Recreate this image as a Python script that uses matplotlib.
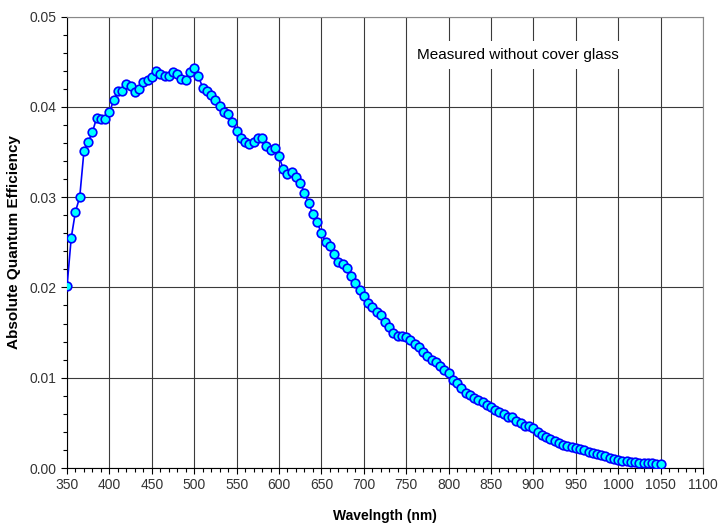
import numpy as np
import matplotlib
matplotlib.use('Agg')
import matplotlib.pyplot as plt
from matplotlib.ticker import MultipleLocator

plt.rcParams['font.family'] = ['Liberation Sans', 'DejaVu Sans']

### Dados (um ponto a cada 5 nm)

wavelength = np.arange(350, 1051, 5)

qe_350_545 = [
    0.0201, 0.0255, 0.0284, 0.0300, 0.0351, 0.0361, 0.0372, 0.0388, 0.0386, 0.0386,
    0.0394, 0.0407, 0.0418, 0.0417, 0.0425, 0.0423, 0.0416, 0.0420, 0.0428, 0.0430,
    0.0433, 0.0440, 0.0436, 0.0434, 0.0434, 0.0439, 0.0436, 0.0431, 0.0430, 0.0439,
    0.0443, 0.0434, 0.0421, 0.0418, 0.0413, 0.0407, 0.0401, 0.0394, 0.0392, 0.0383]
qe_550_745 = [
    0.0373, 0.0366, 0.0361, 0.0359, 0.0361, 0.0365, 0.0366, 0.0357, 0.0352, 0.0354,
    0.0345, 0.0331, 0.0326, 0.0328, 0.0322, 0.0316, 0.0305, 0.0293, 0.0281, 0.0272,
    0.0260, 0.0250, 0.0246, 0.0237, 0.0228, 0.0226, 0.0222, 0.0213, 0.0205, 0.0197,
    0.0190, 0.0183, 0.0178, 0.0173, 0.0169, 0.0162, 0.0156, 0.0149, 0.0146, 0.0146]
qe_750_945 = [
    0.0145, 0.0142, 0.0137, 0.0134, 0.0129, 0.0124, 0.0120, 0.0117, 0.0113, 0.0108,
    0.0105, 0.0098, 0.0094, 0.0089, 0.0083, 0.0081, 0.0078, 0.0075, 0.0073, 0.0070,
    0.0067, 0.0064, 0.0062, 0.0060, 0.0057, 0.0056, 0.0052, 0.0050, 0.0047, 0.0046,
    0.0044, 0.0040, 0.0037, 0.0034, 0.0032, 0.0030, 0.0028, 0.0026, 0.0024, 0.0023]
qe_950_1050 = [
    0.0022, 0.0021, 0.0020, 0.0018, 0.0017, 0.0015, 0.0014, 0.0013, 0.0011, 0.0010,
    0.0009, 0.0008, 0.0008, 0.0007, 0.0007, 0.0006, 0.0006, 0.0005, 0.0005, 0.0004,
    0.0004]

qe = np.array(qe_350_545 + qe_550_745 + qe_750_945 + qe_950_1050)

x_ticks = np.arange(350, 1101, 50)
y_ticks = np.arange(0, 0.051, 0.01)
note = 'Measured without cover glass'

### Gráfico

fig = plt.figure(figsize=(7.18, 5.25), dpi=100)
ax = fig.add_axes([67/718, 1 - 468/525, (703 - 67)/718, (468 - 16.5)/525])

ax.plot(wavelength, qe, color='#0000FF', linewidth=1.2, marker='o',
        markersize=6.2, markerfacecolor='#00FFFF', markeredgecolor='#0000FF',
        markeredgewidth=1.2, zorder=3)

ax.set_xlim(350, 1100)
ax.set_ylim(0, 0.05)
ax.set_xticks(x_ticks)
ax.set_yticks(y_ticks)
ax.set_yticklabels(['%.2f' % v for v in y_ticks])
ax.xaxis.set_minor_locator(MultipleLocator(10))
ax.yaxis.set_minor_locator(MultipleLocator(0.002))
ax.tick_params(which='major', direction='out', length=4, width=0.8,
               labelsize=10, colors='black', labelcolor='#333333')
ax.tick_params(which='minor', direction='out', length=3, width=0.8)
ax.grid(True, which='major', color='#3a3a3a', linewidth=0.8)
ax.set_axisbelow(True)

for side in ['top', 'right']:
    ax.spines[side].set_color('#888888')
for side in ['left', 'bottom']:
    ax.spines[side].set_color('black')

ax.set_xlabel('Wavelngth (nm)', fontsize=10, fontweight='bold', labelpad=12)
ax.set_ylabel('Absolute Quantum Efficiency', fontsize=11, fontweight='bold',
              labelpad=6)

# caixa de texto com fundo branco, sem borda
ax.text(763, 0.0457, note, fontsize=11, ha='left', va='center',
        bbox=dict(facecolor='white', edgecolor='none', pad=5), zorder=2)

fig.savefig('out.png', dpi=100)
